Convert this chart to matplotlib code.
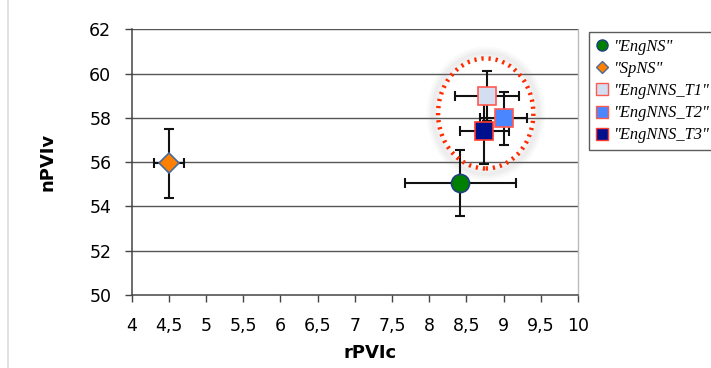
import matplotlib
matplotlib.use("Agg")
import matplotlib.pyplot as plt
from matplotlib.patches import Ellipse
from matplotlib.lines import Line2D

# Data
series = ['"EngNS"', '"SpNS"', '"EngNNS_T1"', '"EngNNS_T2"', '"EngNNS_T3"']
x_vals = [8.42, 4.50, 8.78, 9.00, 8.74]
y_vals = [55.05, 55.95, 58.98, 57.98, 57.42]
x_err = [0.75, 0.20, 0.43, 0.32, 0.33]
y_err = [1.48, 1.55, 1.13, 1.20, 1.50]
markers = ['o', 'D', 's', 's', 's']
face_colors = ['#008000', '#FF8000', '#D3DEF0', '#4A86FF', '#00108C']
edge_colors = ['#1F3F7F', '#4A6A9A', '#FF5A50', '#FF5A50', '#FF3A30']
marker_sizes = [13, 10, 13, 13, 13]
x_ticks = [4, 4.5, 5, 5.5, 6, 6.5, 7, 7.5, 8, 8.5, 9, 9.5, 10]
x_ticklabels = ['4', '4,5', '5', '5,5', '6', '6,5', '7', '7,5', '8', '8,5', '9', '9,5', '10']
y_ticks = [50, 52, 54, 56, 58, 60, 62]
ellipse_center = (8.76, 58.2)
ellipse_size = (1.28, 4.97)

plt.rcParams['font.family'] = ['DejaVu Sans']

fig = plt.figure(figsize=(7.11, 3.68), dpi=100)
ax = fig.add_axes([131.5/711, 1 - 295/368, (578-131.5)/711, (295-29.3)/368])

ax.set_xlim(4, 10)
ax.set_ylim(50, 62)

for yv in y_ticks[1:]:
    ax.axhline(yv, color='#555555', lw=1.0, zorder=1)

# glow + dotted ellipse
for k, a in [(0.10, 0.04), (0.07, 0.05), (0.04, 0.06)]:
    ax.add_patch(Ellipse(ellipse_center, ellipse_size[0] + k*2, ellipse_size[1] + k*7,
                         facecolor='none', edgecolor='#888888', lw=6, alpha=a, zorder=2))
ax.add_patch(Ellipse(ellipse_center, ellipse_size[0], ellipse_size[1],
                     facecolor='none', edgecolor='#FF2A00', lw=3.2,
                     linestyle=(0, (0.5, 1.1)), zorder=6))

handles = []
for i in range(len(series)):
    ax.errorbar(x_vals[i], y_vals[i], xerr=x_err[i], yerr=y_err[i], fmt='none',
                ecolor='#111111', elinewidth=1.5, capsize=3.5, capthick=1.5, zorder=3 + i*0.1)
    ax.plot(x_vals[i], y_vals[i], marker=markers[i], ms=marker_sizes[i],
            mfc=face_colors[i], mec=edge_colors[i], mew=1.2, ls='none', zorder=4 + i*0.1)
    handles.append(Line2D([], [], marker=markers[i], ms=8 if markers[i] != 'D' else 6.5,
                          mfc=face_colors[i], mec=edge_colors[i], mew=1.0, ls='none',
                          label=series[i]))

ax.set_xticks(x_ticks)
ax.set_xticklabels(x_ticklabels)
ax.set_yticks(y_ticks)
ax.tick_params(axis='both', labelsize=12.5, width=1, color='#444444')
ax.tick_params(axis='x', length=5, pad=10.5)
ax.tick_params(axis='y', length=5, pad=9.5)

for s in ['left', 'bottom']:
    ax.spines[s].set_color('#444444')
    ax.spines[s].set_linewidth(1.1)
ax.spines['top'].set_visible(False)
ax.spines['right'].set_color('#BBBBBB')
ax.spines['right'].set_linewidth(1.0)

ax.set_xlabel('rPVIc', fontsize=13, fontweight='bold')
ax.set_ylabel('nPVIv', fontsize=13, fontweight='bold')
ax.xaxis.set_label_coords((370 - 131.5) / (578 - 131.5), -(353 - 295) / (295 - 29.3), transform=ax.transAxes)
ax.xaxis.label.set_va('center')
ax.yaxis.set_label_coords(-(131.5 - 48) / (578 - 131.5), 0.5, transform=ax.transAxes)
ax.yaxis.label.set_va('center')

leg = fig.legend(handles=handles, loc='upper left', bbox_to_anchor=(589/711, 1 - 32/368),
                 prop={'family': ['Liberation Serif'], 'style': 'italic', 'size': 11.8},
                 frameon=True, fancybox=False, handlelength=0.8, handletextpad=0.3,
                 labelspacing=0.38, borderpad=0.4, borderaxespad=0)
leg.get_frame().set_edgecolor('#333333')
leg.get_frame().set_linewidth(1.0)

fig.add_artist(Line2D([8/711, 8/711], [0, 1], color='#DDDDDD', lw=1.2))

fig.savefig('out.png', dpi=100)
